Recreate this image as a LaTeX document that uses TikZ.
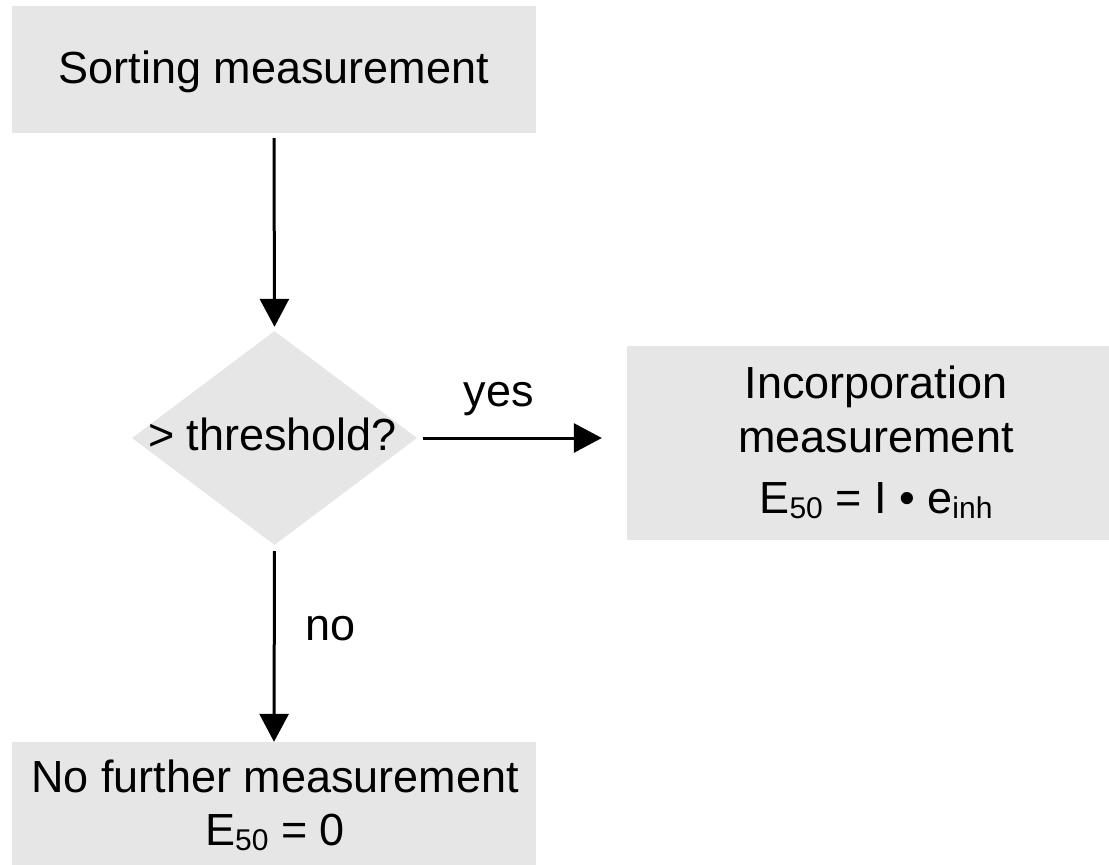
\documentclass[tikz,border=0pt]{standalone}
\usepackage{fontspec}
\setmainfont{Liberation Sans}
\usetikzlibrary{shapes.geometric,arrows.meta}
\definecolor{boxgray}{RGB}{230,230,230}
\newcommand\lowsub[1]{\raisebox{-5pt}{\fontsize{30}{30}\selectfont #1}}
\begin{document}
\begin{tikzpicture}[x=1pt,y=-1pt,
  box/.style={rectangle, fill=boxgray, draw=none, inner sep=0pt},
  txt/.style={anchor=base, inner sep=0pt, font=\fontsize{45}{54}\selectfont},
  flow/.style={line width=3pt, -{Triangle[length=28pt,width=29pt]}}]
\useasboundingbox (0,0) rectangle (1109,865);
% shapes
\node[box, minimum width=524pt, minimum height=127pt] (sort) at (274,69.5) {};
\node[box, shape=diamond, minimum width=285pt, minimum height=214pt] (dia) at (274.5,438) {};
\node[box, minimum width=482pt, minimum height=194pt] (inc) at (868,443) {};
\node[box, minimum width=524pt, minimum height=123pt] (nof) at (274,803.5) {};
% texts
\node[txt] (tsort) at (274,83) {Sorting measurement};
\node[txt] (tdia) at (272.5,450) {> threshold?};
\node[txt] (tinc1) at (876,398) {Incorporation};
\node[txt] (tinc2) at (876,452) {measurement};
\node[txt] (tinc3) at (876,513) {E\lowsub{50} = I • e\lowsub{inh}};
\node[txt] (tnof1) at (275,792) {No further measurement};
\node[txt] (tnof2) at (275,845) {E\lowsub{50} = 0};
\node[txt] (tyes) at (499,406) {yes};
\node[txt, anchor=base west] (tno) at (305,640) {no};
% connectors
\draw[flow, shorten <=5pt, shorten >=4pt] (sort.south) -- (dia.north);
\draw[flow, shorten <=6pt, shorten >=25pt] (dia.east) -- (dia.east -| inc.west);
\draw[flow, shorten <=6pt] (dia.south) -- (nof.north);
\end{tikzpicture}
\end{document}
